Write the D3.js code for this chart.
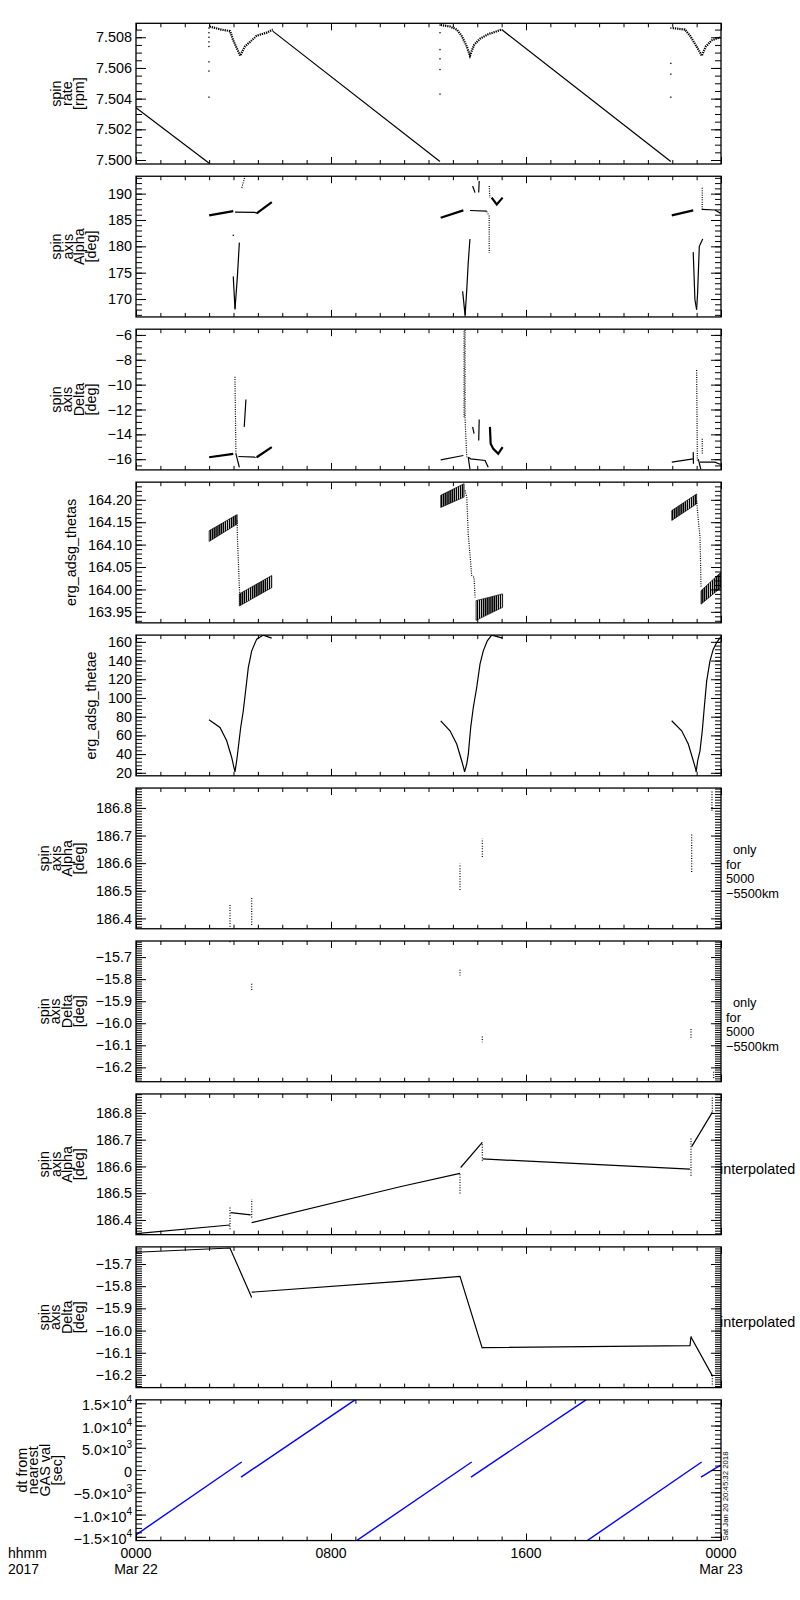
<!DOCTYPE html>
<html><head><meta charset="utf-8">
<script src="https://cdn.jsdelivr.net/npm/d3@7"></script>
<style>
body{margin:0;background:#fff}
text{font-family:"Liberation Sans",Arial,sans-serif;fill:#000}
</style>
</head><body>
<svg id="c" width="800" height="1600"></svg>
<script>
// ---------------- DATA (hours since 0000 Mar 22, values) ----------------
const hourTicks = [0, 8, 16, 24];
const hourLabels = ["0000", "0800", "1600", "0000"];
const dateLabels = ["Mar 22", "", "", "Mar 23"];

// Panel 1: spin rate [rpm]
const rateTicks = [7.500, 7.502, 7.504, 7.506, 7.508];
const rateLines = [
  [[0, 7.5034], [2.99, 7.4998]],
  [[5.61, 7.5084], [12.47, 7.4999]],
  [[15.0, 7.5085], [21.94, 7.4999]]
];
const rateHumps = [
  [[3.02, 7.5087], [3.5, 7.5085], [3.86, 7.5084], [3.99, 7.5078], [4.27, 7.5068], [4.47, 7.5074], [4.68, 7.5077], [4.95, 7.5081], [5.36, 7.5083], [5.61, 7.5085]],
  [[12.50, 7.5088], [12.88, 7.5087], [13.16, 7.5085], [13.36, 7.5081], [13.57, 7.5074], [13.70, 7.5068], [13.87, 7.5075], [14.11, 7.5079], [14.45, 7.5082], [15.0, 7.5085]],
  [[22.02, 7.5086], [22.52, 7.5085], [22.73, 7.5081], [23.0, 7.5074], [23.21, 7.5068], [23.38, 7.5074], [23.62, 7.5078], [23.96, 7.5080]]
];
const rateScatter = [
  [2.99, 7.5086], [2.99, 7.5083], [2.99, 7.5080], [2.99, 7.5077], [2.99, 7.5074], [2.99, 7.5064], [2.99, 7.5058], [2.99, 7.5041],
  [12.47, 7.5088], [12.47, 7.5083], [12.47, 7.5072], [12.47, 7.5066], [12.47, 7.5059], [12.47, 7.5043],
  [21.94, 7.5086], [21.94, 7.5063], [21.94, 7.5056], [21.94, 7.5041]
];

// Panel 2: spin axis Alpha [deg]
const alphaTicks = [170, 175, 180, 185, 190];
const alphaThick = [
  [[3.0, 185.87], [3.99, 186.69]],
  [[4.95, 186.25], [5.57, 188.4]],
  [[12.50, 185.43], [13.43, 186.82]],
  [[14.59, 189.24], [14.80, 187.96], [15.04, 189.24]],
  [[21.98, 185.87], [22.86, 186.82]]
];
const alphaLines = [
  [[4.06, 186.5], [4.88, 186.45], [4.95, 186.25]],
  [[4.24, 180.7], [4.16, 174.3], [4.06, 168.0]],
  [[3.99, 174.3], [4.06, 168.2]],
  [[13.70, 186.8], [14.39, 186.7]],
  [[13.70, 181.4], [13.63, 176.9], [13.57, 171.8], [13.50, 166.7]],
  [[13.40, 171.45], [13.50, 167.0]],
  [[13.81, 191.45], [13.91, 190.2]],
  [[14.08, 192.4], [14.06, 190.2]],
  [[23.21, 187.0], [23.75, 186.9], [23.99, 186.25]],
  [[22.86, 178.9], [22.93, 169.9], [23.0, 168.0]],
  [[23.25, 181.4], [23.11, 180.0], [23.04, 171.1], [23.0, 168.0]]
];
const alphaDotted = [
  [[4.34, 191.1], [4.47, 193.3]],
  [[14.39, 186.63], [14.49, 185.7], [14.49, 178.8]],
  [[14.49, 191.45], [14.52, 189.2]],
  [[23.23, 191.1], [23.23, 187.1]]
];
const alphaScatter = [[3.99, 182.1]];

// Panel 3: spin axis Delta [deg]
const deltaTicks = [-16, -14, -12, -10, -8, -6];
const deltaThick = [
  [[3.0, -15.84], [3.99, -15.57]],
  [[4.95, -15.84], [5.57, -15.03]],
  [[14.52, -13.4], [14.55, -14.76], [14.66, -15.17], [14.86, -15.57], [15.04, -15.03]]
];
const deltaLines = [
  [[4.20, -15.78], [4.95, -15.84]],
  [[4.10, -15.57], [4.24, -16.65]],
  [[4.51, -11.2], [4.44, -13.4]],
  [[12.50, -16.05], [13.43, -15.7]],
  [[13.63, -15.84], [13.73, -15.97], [14.32, -16.1], [14.45, -16.65]],
  [[13.63, -15.84], [13.70, -16.8]],
  [[13.81, -13.4], [13.87, -13.95]],
  [[14.08, -12.8], [14.06, -14.5]],
  [[21.98, -16.24], [22.86, -15.97]],
  [[22.86, -15.43], [22.87, -16.37]],
  [[23.14, -16.24], [23.75, -16.24], [23.99, -16.43]],
  [[23.07, -16.0], [23.17, -16.8]]
];
const deltaDotted = [
  [[4.06, -9.37], [4.10, -15.57]],
  [[13.50, -5.6], [13.50, -12.73], [13.57, -15.84]],
  [[13.46, -5.7], [13.46, -12.6]],
  [[23.0, -8.83], [23.03, -16.1]],
  [[23.23, -14.35], [23.23, -15.57]]
];

// Panel 4: erg_adsg_thetas  bands: [hour, low, high]
const thetasTicks = [163.95, 164.00, 164.05, 164.10, 164.15, 164.20];
const thetasBands = [
  [[3.0, 164.107, 164.131], [4.15, 164.146, 164.167]],
  [[4.24, 163.963, 163.990], [5.57, 164.004, 164.031]],
  [[12.50, 164.183, 164.21], [13.46, 164.206, 164.236]],
  [[13.95, 163.931, 163.975], [15.04, 163.960, 163.990]],
  [[21.98, 164.154, 164.176], [23.0, 164.191, 164.213]],
  [[23.18, 163.967, 163.997], [23.99, 164.004, 164.038]]
];
const thetasDrops = [
  [[4.15, 164.154], [4.16, 164.116], [4.20, 164.064], [4.23, 164.019], [4.27, 163.967]],
  [[13.50, 164.221], [13.57, 164.206], [13.63, 164.124], [13.73, 164.060], [13.77, 164.031], [13.87, 164.027], [13.91, 163.982]],
  [[23.0, 164.198], [23.07, 164.154], [23.14, 164.116], [23.18, 164.004]]
];

// Panel 5: erg_adsg_thetae
const thetaeTicks = [20, 40, 60, 80, 100, 120, 140, 160];
const thetaeLines = [
  [[2.995, 76.7], [3.446, 68.4], [3.721, 54.2], [3.926, 36.4], [4.033, 24.0], [4.06, 21], [4.131, 32.9], [4.197, 47.1], [4.295, 68.4], [4.402, 86.3], [4.513, 111.2], [4.607, 132.5], [4.747, 150.4], [4.952, 162.9], [5.222, 167.2], [5.567, 164.0]],
  [[12.501, 75.6], [12.882, 64.9], [13.157, 50.7], [13.362, 32.9], [13.456, 24.0], [13.48, 21], [13.567, 29.3], [13.633, 40.0], [13.731, 68.4], [13.838, 89.8], [13.977, 111.2], [14.113, 136.2], [14.248, 150.4], [14.412, 161.1], [14.593, 167.2], [15.044, 164.0]],
  [[21.977, 75.6], [22.387, 64.9], [22.658, 50.7], [22.863, 32.9], [22.961, 24.0], [22.98, 21], [23.043, 32.9], [23.138, 43.5], [23.232, 64.9], [23.314, 89.8], [23.413, 118.3], [23.548, 139.7], [23.684, 152.2], [23.823, 159.3], [23.988, 165.3]]
];

// Panel 6: Alpha only for 5000-5500km  [hour, low, high]
const alphaOnlyTicks = [186.4, 186.5, 186.6, 186.7, 186.8];
const alphaOnlyBars = [[3.856, 186.37, 186.454], [4.747, 186.376, 186.478], [13.292, 186.503, 186.598], [14.207, 186.622, 186.688], [22.797, 186.568, 186.706], [23.63, 186.79, 186.862]];

// Panel 7: Delta only for 5000-5500km
const deltaOnlyTicks = [-16.2, -16.1, -16.0, -15.9, -15.8, -15.7];
const deltaOnlyBars = [[3.856, -15.628, -15.64], [4.747, -15.821, -15.851], [13.292, -15.757, -15.783], [14.207, -16.06, -16.086], [22.769, -16.026, -16.071], [23.7, -16.22, -16.25]];

// Panel 8: Alpha interpolated
const alphaIntLines = [
  [[0, 186.349], [3.856, 186.381]],
  [[3.885, 186.427], [4.706, 186.419]],
  [[4.747, 186.390], [10.831, 186.524], [13.292, 186.574]],
  [[13.321, 186.596], [14.207, 186.690]],
  [[14.223, 186.628], [22.728, 186.590]],
  [[22.797, 186.674], [23.643, 186.802]]
];
const alphaIntBars = [[3.856, 186.365, 186.452], [4.747, 186.409, 186.478], [13.292, 186.499, 186.574], [14.207, 186.621, 186.690], [22.769, 186.565, 186.709], [23.643, 186.796, 186.859]];

// Panel 9: Delta interpolated
const deltaIntLines = [
  [[0, -15.647], [3.856, -15.628], [4.747, -15.851]],
  [[4.747, -15.827], [10.831, -15.778], [13.292, -15.756], [14.207, -16.080]],
  [[14.207, -16.077], [22.728, -16.068], [22.769, -16.027], [22.797, -16.035], [23.643, -16.203]]
];
const deltaIntBars = [[23.643, -16.203, -16.244]];

// Panel 10: dt from nearest GAS val [sec]
const dtTicks = [-15000, -10000, -5000, 0, 5000, 10000, 15000];
const dtMantissa = ["\u22121.5", "\u22121.0", "\u22125.0", "0", "5.0", "1.0", "1.5"];
const dtExponent = ["4", "4", "3", "", "3", "4", "4"];
const dtLines = [
  [[0, -14548], [4.336, 1810]],
  [[4.308, -1584], [8.985, 15770]],
  [[9.054, -15837], [13.772, 1810]],
  [[13.744, -1584], [18.462, 15770]],
  [[18.515, -15837], [23.207, 1810]],
  [[23.179, -1584], [23.988, 1131]]
];

// ---------------- LAYOUT ----------------
const X0 = 136, X1 = 721;
const TOP0 = 23.3, PITCH = 152.95, PH = 140.7;
const FS = 14.4;
const minus = s => s.replace(/-/g, "\u2212");

const panels = [
  {title: ["spin", "rate", "[rpm]"], domain: [7.49974, 7.50891], ticks: rateTicks, minor: 0.0005, fmt: d3.format(".3f"),
   lines: rateLines, dashed: rateHumps, points: rateScatter},
  {title: ["spin", "axis", "Alpha", "[deg]"], domain: [166.6, 193.3], ticks: alphaTicks, minor: 1, fmt: d3.format("d"),
   lines: alphaLines, thick: alphaThick, dotted: alphaDotted, points: alphaScatter},
  {title: ["spin", "axis", "Delta", "[deg]"], domain: [-16.86, -5.54], ticks: deltaTicks, minor: 0.5, fmt: d3.format("d"),
   lines: deltaLines, thick: deltaThick, dotted: deltaDotted},
  {title: ["erg_adsg_thetas"], domain: [163.9254, 164.2394], ticks: thetasTicks, minor: 0.01, fmt: d3.format(".2f"),
   bands: thetasBands, dotted: thetasDrops},
  {title: ["erg_adsg_thetae"], domain: [16.8, 167.2], ticks: thetaeTicks, minor: 4, fmt: d3.format("d"),
   lines: thetaeLines},
  {title: ["spin", "axis", "Alpha", "[deg]"], domain: [186.3625, 186.872], ticks: alphaOnlyTicks, minor: 0.01, fmt: d3.format(".1f"),
   bars: alphaOnlyBars, right: ["only", "for", "5000", "\u22125500km"]},
  {title: ["spin", "axis", "Delta", "[deg]"], domain: [-16.265, -15.627], ticks: deltaOnlyTicks, minor: 0.01, fmt: d3.format(".1f"),
   bars: deltaOnlyBars, right: ["only", "for", "5000", "\u22125500km"]},
  {title: ["spin", "axis", "Alpha", "[deg]"], domain: [186.345, 186.871], ticks: [186.4, 186.5, 186.6, 186.7, 186.8], minor: 0.01, fmt: d3.format(".1f"),
   lines: alphaIntLines, bars: alphaIntBars, interp: true},
  {title: ["spin", "axis", "Delta", "[deg]"], domain: [-16.257, -15.623], ticks: [-16.2, -16.1, -16.0, -15.9, -15.8, -15.7], minor: 0.01, fmt: d3.format(".1f"),
   lines: deltaIntLines, bars: deltaIntBars, interp: true},
  {title: ["dt from", "nearest", "GAS val", "[sec]"], domain: [-15837, 15770], ticks: dtTicks, minor: 1000, fmt: null,
   blue: dtLines}
];

const svg = d3.select("#c");
svg.append("rect").attr("width", 800).attr("height", 1600).attr("fill", "#fff");
const defs = svg.append("defs");
const pat = defs.append("pattern").attr("id", "stripes").attr("patternUnits", "userSpaceOnUse")
  .attr("width", 2.1).attr("height", 6);
pat.append("rect").attr("width", 1.5).attr("height", 6).attr("fill", "#000");

const x = d3.scaleLinear().domain([0, 24]).range([X0, X1]);
const minorHours = d3.range(0, 25);

panels.forEach((p, i) => {
  const top = TOP0 + i * PITCH, bot = top + PH;
  const y = d3.scaleLinear().domain(p.domain).range([bot, top]);
  const g = svg.append("g");
  const clipId = "clip" + i;
  defs.append("clipPath").attr("id", clipId).append("rect")
    .attr("x", X0).attr("y", top).attr("width", X1 - X0).attr("height", PH);
  const data = g.append("g").attr("clip-path", `url(#${clipId})`);
  const line = d3.line().x(d => x(d[0])).y(d => y(d[1]));

  (p.bands || []).forEach(b => {
    data.append("path").attr("d", d3.area().x(d => x(d[0])).y0(d => y(d[1])).y1(d => y(d[2]))(b))
      .attr("fill", "url(#stripes)").attr("stroke", "#000").attr("stroke-width", 0.7);
  });
  (p.lines || []).forEach(l => data.append("path").attr("d", line(l))
    .attr("fill", "none").attr("stroke", "#000").attr("stroke-width", 1.2));
  (p.thick || []).forEach(l => data.append("path").attr("d", line(l))
    .attr("fill", "none").attr("stroke", "#000").attr("stroke-width", 2.2));
  (p.dotted || []).forEach(l => data.append("path").attr("d", line(l))
    .attr("fill", "none").attr("stroke", "#000").attr("stroke-width", 1.2).attr("stroke-dasharray", "1,1.3"));
  (p.dashed || []).forEach(l => data.append("path").attr("d", line(l))
    .attr("fill", "none").attr("stroke", "#000").attr("stroke-width", 2.2).attr("stroke-dasharray", "1.3,0.9"));
  (p.points || []).forEach(d => data.append("rect")
    .attr("x", x(d[0]) - 0.6).attr("y", y(d[1]) - 0.6).attr("width", 1.3).attr("height", 1.3).attr("fill", "#000"));
  (p.bars || []).forEach(d => data.append("line")
    .attr("x1", x(d[0])).attr("x2", x(d[0])).attr("y1", y(d[1])).attr("y2", y(d[2]))
    .attr("stroke", "#000").attr("stroke-width", 1.2).attr("stroke-dasharray", "1,1.6"));
  (p.blue || []).forEach(l => data.append("path").attr("d", line(l))
    .attr("fill", "none").attr("stroke", "#0000ff").attr("stroke-width", 1.4));

  // frame
  g.append("rect").attr("x", X0).attr("y", top).attr("width", X1 - X0).attr("height", PH)
    .attr("fill", "none").attr("stroke", "#000").attr("stroke-width", 1.3);

  // minor y ticks
  const [d0, d1] = p.domain;
  const minorVals = d3.range(Math.ceil(d0 / p.minor - 1e-6), Math.floor(d1 / p.minor + 1e-6) + 1).map(k => k * p.minor);
  const axStyle = sel => { sel.select(".domain").remove(); sel.selectAll("line").attr("stroke", "#000").attr("stroke-width", 1); };
  g.append("g").attr("transform", `translate(${X0},0)`)
    .call(d3.axisLeft(y).tickValues(minorVals).tickSize(-6).tickFormat("")).call(axStyle);
  g.append("g").attr("transform", `translate(${X1},0)`)
    .call(d3.axisRight(y).tickValues(minorVals).tickSize(-6).tickFormat("")).call(axStyle);
  g.append("g").attr("transform", `translate(${X1},0)`)
    .call(d3.axisRight(y).tickValues(p.ticks).tickSize(-10).tickFormat("")).call(axStyle);
  const left = g.append("g").attr("transform", `translate(${X0},0)`)
    .call(d3.axisLeft(y).tickValues(p.ticks).tickSize(-10).tickPadding(4)
      .tickFormat(p.fmt ? (v => minus(p.fmt(v))) : (v => ""))).call(axStyle);
  left.selectAll("text").attr("font-size", FS).attr("font-family", "Liberation Sans, Arial, sans-serif").attr("fill", "#000");
  if (!p.fmt) {
    left.selectAll("text").each(function (v) {
      const t = d3.select(this).attr("dy", "0.45em");
      const idx = p.ticks.indexOf(v);
      if (dtExponent[idx]) {
        t.append("tspan").text(dtMantissa[idx] + "\u00d710");
        t.append("tspan").attr("font-size", 10).attr("dy", "-0.7em").text(dtExponent[idx]);
      } else {
        t.append("tspan").text(dtMantissa[idx]);
      }
    });
  }

  // x ticks (bottom and top)
  g.append("g").attr("transform", `translate(0,${bot})`)
    .call(d3.axisBottom(x).tickValues(minorHours).tickSize(-4).tickFormat("")).call(axStyle);
  g.append("g").attr("transform", `translate(0,${bot})`)
    .call(d3.axisBottom(x).tickValues(hourTicks).tickSize(-7).tickFormat("")).call(axStyle);
  g.append("g").attr("transform", `translate(0,${top})`)
    .call(d3.axisTop(x).tickValues(minorHours).tickSize(-4).tickFormat("")).call(axStyle);
  g.append("g").attr("transform", `translate(0,${top})`)
    .call(d3.axisTop(x).tickValues(hourTicks).tickSize(-7).tickFormat("")).call(axStyle);

  // y title (one multi-line text), placed relative to widest tick label
  const bb = left.node().getBBox();
  const lastBase = X0 + bb.x - 12;
  const cy = (top + bot) / 2;
  const n = p.title.length;
  const LH = 11.6;
  const firstBase = lastBase - (n - 1) * LH;
  const tt = g.append("text").attr("transform", `translate(${firstBase},${cy}) rotate(-90)`)
    .attr("text-anchor", "middle").attr("font-size", FS);
  p.title.forEach((s, k) => {
    tt.append("tspan").attr("x", 0).attr("y", k * LH).text(s);
  });

  if (p.right) {
    p.right.forEach((s, k) => {
      g.append("text").attr("x", k === 0 ? 733 : 726).attr("y", top + 66 + k * 14.6)
        .attr("font-size", 12.8).text(s);
    });
  }
  if (p.interp) {
    g.append("text").attr("x", 720).attr("y", cy + 10).attr("font-size", FS).text("interpolated");
  }
  if (i === panels.length - 1) {
    hourTicks.forEach((h, k) => {
      g.append("text").attr("x", x(h)).attr("y", bot + 17.5).attr("text-anchor", "middle")
        .attr("font-size", 14).text(hourLabels[k]);
      if (dateLabels[k]) g.append("text").attr("x", x(h)).attr("y", bot + 33.5)
        .attr("text-anchor", "middle").attr("font-size", 14).text(dateLabels[k]);
    });
    g.append("text").attr("x", 8).attr("y", bot + 17.5).attr("font-size", 14).text("hhmm");
    g.append("text").attr("x", 8).attr("y", bot + 33.5).attr("font-size", 14).text("2017");
    g.append("text").attr("transform", `translate(728,${bot}) rotate(-90)`)
      .attr("font-size", 7.5).attr("textLength", 89).attr("lengthAdjust", "spacingAndGlyphs")
      .text("Sat Jan 20 20:45:32 2018");
  }
});
</script>
</body></html>
